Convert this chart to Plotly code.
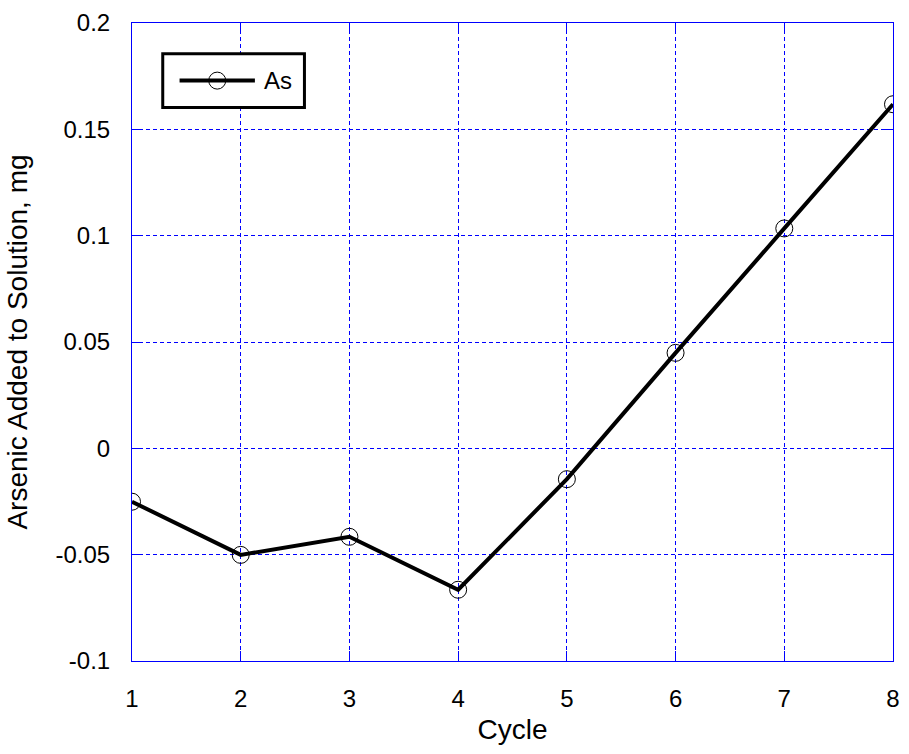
import plotly.graph_objects as go

cycles = [1, 2, 3, 4, 5, 6, 7, 8]
arsenic = [-0.0251, -0.0501, -0.0416, -0.0665, -0.0145, 0.0449, 0.1034, 0.1618]
y_ticks = [-0.1, -0.05, 0, 0.05, 0.1, 0.15, 0.2]
y_tick_text = ["-0.1", "-0.05", "0", "0.05", "0.1", "0.15", "0.2"]
series_name = "As"

FONT = "Liberation Sans, Arial, sans-serif"

fig = go.Figure()
fig.add_trace(go.Scatter(
    x=cycles, y=arsenic, name=series_name, mode="lines+markers",
    line=dict(color="black", width=4),
    marker=dict(symbol="circle-open", size=17, color="black", line=dict(width=1, color="black")),
    showlegend=False,
))

axis_common = dict(
    showline=True, linecolor="#0000ff", linewidth=1, mirror="ticks",
    ticks="inside", tickcolor="#0000ff", ticklen=10, tickwidth=1,
    showgrid=True, gridcolor="#0000ff", gridwidth=1, griddash="4px,3px",
    zeroline=False,
    tickfont=dict(family=FONT, size=24, color="black"),
)

fig.update_xaxes(range=[1, 8], tickvals=cycles, ticktext=[str(c) for c in cycles],
                 ticklabelstandoff=16,
                 title=dict(text="Cycle", font=dict(family=FONT, size=28, color="black"), standoff=8),
                 **axis_common)
fig.update_yaxes(range=[-0.1, 0.2], tickvals=y_ticks, ticktext=y_tick_text,
                 ticklabelstandoff=16,
                 title=dict(text="Arsenic Added to Solution, mg", font=dict(family=FONT, size=28, color="black"), standoff=19),
                 **axis_common)

# Legend box drawn in paper coordinates
fig.add_shape(type="rect", xref="paper", yref="paper", x0=0.0404, x1=0.2266, y0=0.8676, y1=0.9517,
              line=dict(color="black", width=3), fillcolor="white", layer="above")
fig.add_shape(type="line", xref="paper", yref="paper", x0=0.0625, x1=0.1615, y0=0.9097, y1=0.9097,
              line=dict(color="black", width=4), layer="above")
fig.add_shape(type="circle", xref="paper", yref="paper", xsizemode="pixel", ysizemode="pixel",
              xanchor=0.112, yanchor=0.9097, x0=-8.5, x1=8.5, y0=-8.5, y1=8.5,
              line=dict(color="black", width=1), layer="above")
fig.add_annotation(xref="paper", yref="paper", x=0.1706, y=0.9097, xanchor="left", yanchor="middle",
                   text=series_name, showarrow=False, font=dict(family=FONT, size=24, color="black"))

fig.update_layout(
    width=909, height=754,
    margin=dict(l=132, r=9, t=19, b=93),
    plot_bgcolor="white", paper_bgcolor="white",
    showlegend=False,
)

fig.write_html("out.html", config={"displayModeBar": False},
               post_script="document.body.style.margin='0px';")
